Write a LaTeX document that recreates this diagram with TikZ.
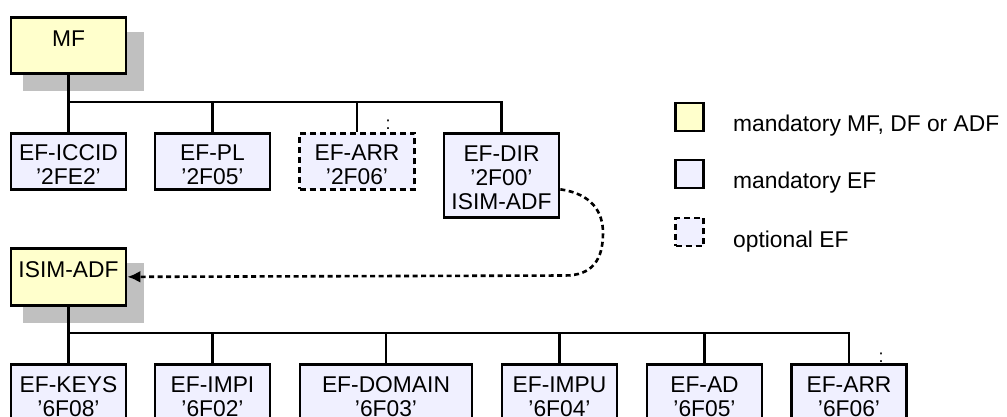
\documentclass[tikz,border=0pt]{standalone}
\usepackage{fontspec}
\setmainfont{Liberation Sans}
\usetikzlibrary{shadows,arrows.meta}
\definecolor{mfyellow}{HTML}{FFFFCC}
\definecolor{eflav}{HTML}{F0F0FF}
\definecolor{shgray}{HTML}{C0C0C0}
\begin{document}
\begin{tikzpicture}[x=1pt,y=-1pt,
  font=\fontsize{22.8}{24}\selectfont,
  efbox/.style={draw, line width=2.7pt, fill=eflav, inner sep=0pt,
    minimum width=115pt, text width=112pt, align=center, anchor=north,
    text height=27pt, text depth=29pt},
  optbox/.style={efbox, dash pattern=on 6pt off 4pt},
  mfbox/.style={efbox, fill=mfyellow, text height=29pt, text depth=27pt,
    drop shadow={shadow xshift=14pt, shadow yshift=-15pt, shadow scale=1.05,
      fill=shgray, opacity=1}},
  botbox/.style={efbox, text height=28pt, text depth=28pt},
  conn/.style={line width=2.6pt},
  dasharr/.style={line width=2.6pt, dash pattern=on 5pt off 3.5pt,
    -{Latex[length=13pt,width=12pt]}},
  legsq/.style={draw, line width=2.7pt, minimum width=28pt, minimum height=28pt,
    inner sep=0pt, anchor=center},
  legtxt/.style={anchor=base west, inner sep=0pt},
  tinycolon/.style={font=\fontsize{18}{18}\selectfont, inner sep=0pt, anchor=base}
]
\useasboundingbox (0,0) rectangle (1007,416);

% top level
\node[mfbox] (mf) at (68.5,16) {MF};
\node[efbox] (iccid) at (68.5,132) {EF-ICCID\\'2FE2'};
\node[efbox] (pl) at (212.5,132) {EF-PL\\'2F05'};
\node[optbox] (arr1) at (357,132) {EF-ARR\\'2F06'};
\node[efbox, text height=28pt, text depth=56pt] (dir) at (501.5,132) {EF-DIR\\'2F00'\\ISIM-ADF};

\coordinate (busA) at (0,102);
\draw[conn] (mf.south) |- (dir.north |- busA) -- (dir.north);
\draw[conn] (iccid.north) -- (iccid.north |- busA);
\draw[conn] (pl.north) -- (pl.north |- busA);
\draw[conn] (arr1.north) -- (arr1.north |- busA);

% ISIM-ADF level
\node[mfbox, text height=29pt, text depth=28pt] (isim) at (68.5,247) {ISIM-ADF};
\node[botbox] (keys) at (68.5,363) {EF-KEYS\\'6F08'};
\node[botbox] (impi) at (212.5,363) {EF-IMPI\\'6F02'};
\node[botbox, minimum width=172pt, text width=168pt] (domain) at (386,363) {EF-DOMAIN\\'6F03'};
\node[botbox] (impu) at (559.5,363) {EF-IMPU\\'6F04'};
\node[botbox] (ad) at (704.5,363) {EF-AD\\'6F05'};
\node[botbox] (arr2) at (849,363) {EF-ARR\\'6F06'};

\coordinate (busB) at (0,333);
\draw[conn] (isim.south) |- (arr2.north |- busB) -- (arr2.north);
\draw[conn] (keys.north) -- (keys.north |- busB);
\draw[conn] (impi.north) -- (impi.north |- busB);
\draw[conn] (domain.north) -- (domain.north |- busB);
\draw[conn] (impu.north) -- (impu.north |- busB);
\draw[conn] (ad.north) -- (ad.north |- busB);

% link from EF-DIR to ISIM-ADF
\draw[dasharr] ([yshift=-14pt]dir.east) .. controls (592,194) and (603,212) .. (603,233)
  .. controls (603,260) and (592,275.5) .. (565,275.5) -- (isim.east);

% small marks
\node[tinycolon] (c1) at (388,129) {:};
\node[tinycolon] (c2) at (881,362) {:};

% legend
\node[legsq, fill=mfyellow] (lg1) at (689.5,117) {};
\node[legsq, fill=eflav] (lg2) at (689.5,174) {};
\node[legsq, fill=eflav, dash pattern=on 6pt off 4pt] (lg3) at (689.5,232) {};
\node[legtxt] (lt1) at (733,131) {mandatory MF, DF or ADF};
\node[legtxt] (lt2) at (733,188) {mandatory EF};
\node[legtxt] (lt3) at (733,247) {optional EF};
\end{tikzpicture}
\end{document}
